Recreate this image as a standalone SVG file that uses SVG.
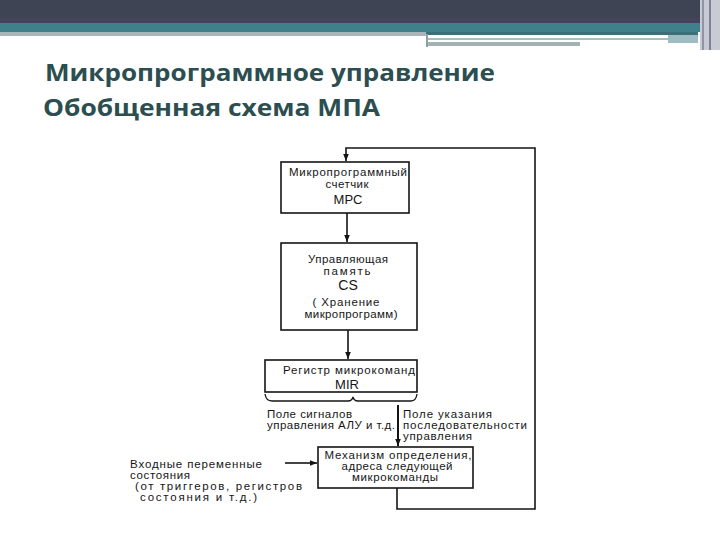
<svg xmlns="http://www.w3.org/2000/svg" width="720" height="540" viewBox="0 0 720 540">
<style>
.t{font-family:"Liberation Sans",Arial,sans-serif;font-size:11.5px;fill:#161616}
.b{font-size:13px}
.ttl{font-family:"Open Sans","Noto Sans",sans-serif;font-weight:700;font-size:23.5px;fill:#2c4e51}
.box{fill:#fff;stroke:#141414;stroke-width:1.6}
.ln{fill:none;stroke:#141414;stroke-width:1.6}
</style>
<defs>
<marker id="ar" viewBox="0 0 10 10" refX="10" refY="5" markerWidth="7" markerHeight="7" markerUnits="userSpaceOnUse" orient="auto">
<path d="M0,1 L10,5 L0,9 z" fill="#141414"/>
</marker>
</defs>
<rect width="720" height="540" fill="#fff"/>
<g id="header">
<rect x="0" y="0" width="720" height="23" fill="#3e4454"/>
<rect x="0" y="18" width="720" height="5" fill="#45435a"/>
<rect x="0" y="23" width="700" height="9" fill="#40808a"/>
<rect x="0" y="32" width="426" height="4" fill="#a8b6ba"/>
<rect x="426" y="32" width="272" height="3" fill="#3d6f78"/>
<rect x="426" y="38" width="242" height="2" fill="#aebcbe"/>
<rect x="426" y="42" width="154" height="4" fill="#a5b2b4"/>
<rect x="426" y="34" width="2" height="13" fill="#8aa2a6"/>
<rect x="668" y="35" width="30" height="8" fill="#9fbcc2"/>
<rect x="700" y="0" width="20" height="50" fill="#c9cbd4"/>
<rect x="702" y="0" width="2" height="50" fill="#8f94a6"/>
<rect x="709" y="0" width="2" height="50" fill="#7d8296"/>
</g>
<g id="title">
<text class="ttl" x="45" y="81" textLength="450" lengthAdjust="spacingAndGlyphs">Микропрограммное управление</text>
<text class="ttl" x="43" y="116" textLength="337" lengthAdjust="spacingAndGlyphs">Обобщенная схема МПА</text>
</g>
<g id="connectors">
<path class="ln" d="M397,488 V509 H535 V148 H346 V161" marker-end="url(#ar)"/>
<path class="ln" d="M347,213 V242" marker-end="url(#ar)"/>
<path class="ln" d="M348,330 V359" marker-end="url(#ar)"/>
<path class="ln" style="stroke-width:2" d="M398,405 V446" marker-end="url(#ar)"/>
<path class="ln" d="M285,463 H317" marker-end="url(#ar)"/>
<path class="ln" style="stroke-width:1.3" d="M265,394 Q266,401 272,401 H348 Q352,401 353,397 Q354,401 358,401 H411 Q416,401 417,394"/>
</g>
<g id="mpc">
<rect class="box" x="281" y="162" width="128" height="51"/>
<text class="t" x="348" y="176" text-anchor="middle" textLength="118">Микропрограммный</text>
<text class="t" x="347" y="188" text-anchor="middle" textLength="43">счетчик</text>
<text class="t b" x="348" y="204" text-anchor="middle">MPC</text>
</g>
<g id="cs">
<rect class="box" x="281" y="243" width="136" height="87"/>
<text class="t" x="348" y="263" text-anchor="middle" textLength="80">Управляющая</text>
<text class="t" x="347" y="275" text-anchor="middle" textLength="47">память</text>
<text class="t b" x="348" y="290" text-anchor="middle" style="font-size:14px">CS</text>
<text class="t" x="346" y="306" text-anchor="middle" textLength="67">( Хранение</text>
<text class="t" x="351" y="318" text-anchor="middle" textLength="93">микропрограмм)</text>
</g>
<g id="mir">
<rect class="box" x="265" y="360" width="152" height="32"/>
<text class="t" x="349" y="374" text-anchor="middle" textLength="132">Регистр микрокоманд</text>
<text class="t b" x="347" y="389" text-anchor="middle">MIR</text>
</g>
<g id="labels">
<text class="t" x="267" y="418" textLength="85">Поле сигналов</text>
<text class="t" x="267" y="429" textLength="128">управления АЛУ и т.д.</text>
<text class="t" x="403" y="418" textLength="89">Поле указания</text>
<text class="t" x="403" y="429" textLength="124">последовательности</text>
<text class="t" x="403" y="440" textLength="69">управления</text>
</g>
<g id="mechanism">
<rect class="box" x="318" y="447" width="155" height="41"/>
<text class="t" x="398" y="459" text-anchor="middle" textLength="147">Механизм определения,</text>
<text class="t" x="397" y="470" text-anchor="middle" textLength="111">адреса следующей</text>
<text class="t" x="395" y="481" text-anchor="middle" textLength="86">микрокоманды</text>
</g>
<g id="inputs">
<text class="t" x="130" y="468" textLength="132">Входные переменные</text>
<text class="t" x="130" y="479" textLength="60">состояния</text>
<text class="t" x="135" y="490" textLength="167">(от триггеров, регистров</text>
<text class="t" x="140" y="501" textLength="117">состояния и т.д.)</text>
</g>
</svg>
